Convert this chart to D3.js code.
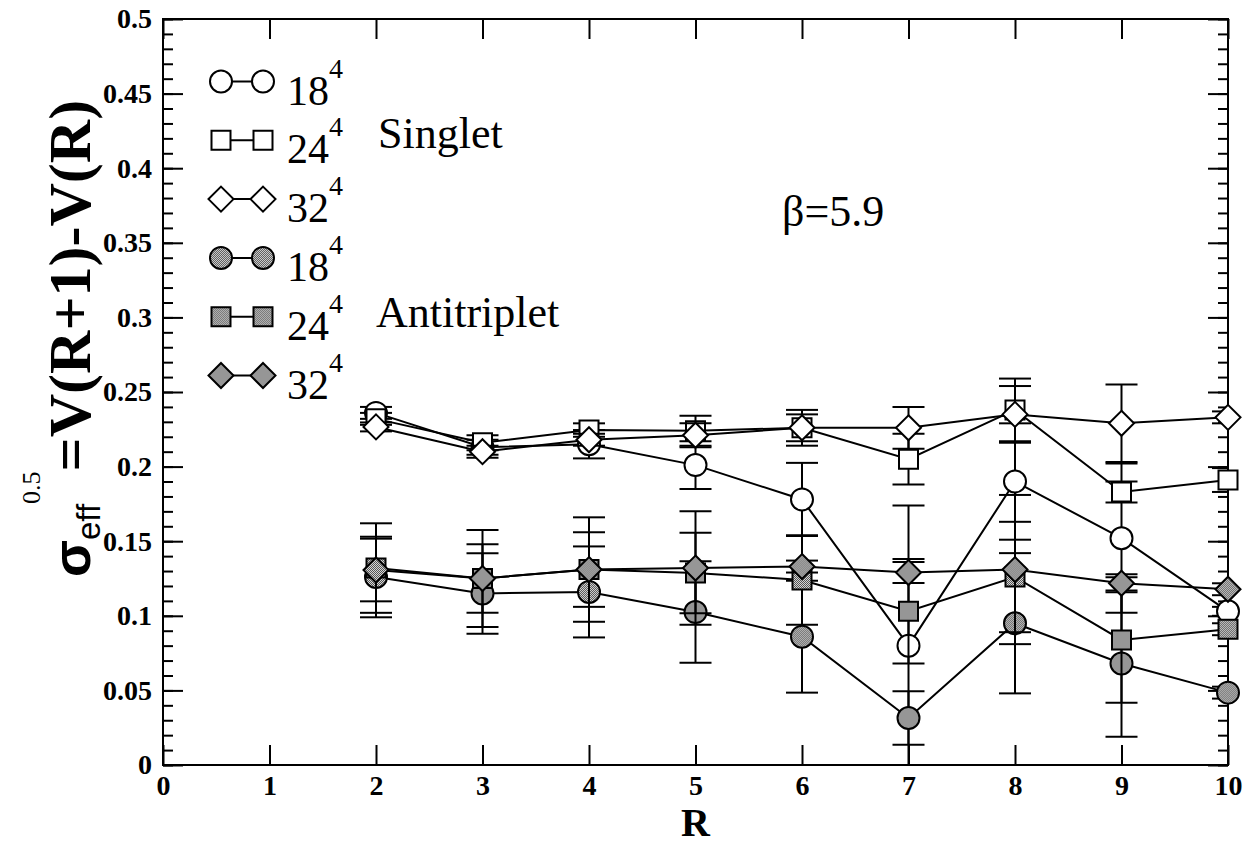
<!DOCTYPE html>
<html>
<head>
<meta charset="utf-8">
<script src="https://cdn.jsdelivr.net/npm/d3@7"></script>
<style>
  body { margin: 0; background: #fff; }
  svg { display: block; }
</style>
</head>
<body>
<svg id="chart" width="1246" height="842"></svg>
<script>
// separation R
const R = [2, 3, 4, 5, 6, 7, 8, 9, 10];

// singlet
const s18 = [0.236, 0.213, 0.215, 0.201, 0.178, 0.080, 0.190, 0.152, 0.103];
const s18err = [0.004, 0.005, 0.0095, 0.016, 0.0245, 0.094, 0.039, 0.050, 0.003];
const s24 = [0.232, 0.216, 0.2245, 0.224, 0.226, 0.205, 0.238, 0.183, 0.191];
const s24err = [0.004, 0.005, 0.0045, 0.010, 0.012, 0.017, 0.021, 0.007, 0.008];
const s32 = [0.2266, 0.210, 0.218, 0.221, 0.226, 0.226, 0.235, 0.229, 0.233];
const s32err = [0.003, 0.004, 0.004, 0.008, 0.009, 0.014, 0.019, 0.026, 0.004];

// antitriplet
const a18 = [0.126, 0.115, 0.116, 0.1025, 0.086, 0.0315, 0.095, 0.068, 0.0485];
const a18err = [0.027, 0.027, 0.0305, 0.034, 0.0375, 0.018, 0.047, 0.049, 0.004];
const a24 = [0.132, 0.125, 0.131, 0.1287, 0.124, 0.103, 0.126, 0.0838, 0.091];
const a24err = [0.030, 0.0325, 0.035, 0.027, 0.030, 0.035, 0.037, 0.042, 0.004];
const a32 = [0.1307, 0.125, 0.131, 0.132, 0.133, 0.129, 0.131, 0.1218, 0.1178];
const a32err = [0.021, 0.023, 0.025, 0.038, 0.004, 0.007, 0.050, 0.006, 0.004];

const sizes = ["18", "24", "32", "18", "24", "32"];
const yTicks = [0, 0.05, 0.1, 0.15, 0.2, 0.25, 0.3, 0.35, 0.4, 0.45, 0.5];
const xTicks = [0, 1, 2, 3, 4, 5, 6, 7, 8, 9, 10];

const series = [
  {v: s18, e: s18err, sym: "circle", filled: false},
  {v: s24, e: s24err, sym: "square", filled: false},
  {v: s32, e: s32err, sym: "diamond", filled: false},
  {v: a18, e: a18err, sym: "circle", filled: true},
  {v: a24, e: a24err, sym: "square", filled: true},
  {v: a32, e: a32err, sym: "diamond", filled: true}
];

const pL = 163, pR = 1228, pT = 19, pB = 765;
const SERIF = '"Liberation Serif"';
const SANS = '"Liberation Sans"';

const svg = d3.select("#chart");
const x = d3.scaleLinear().domain([0, 10]).range([pL, pR]);
const y = d3.scaleLinear().domain([0, 0.5]).range([pB, pT]);

const defs = svg.append("defs");
const pat = defs.append("pattern").attr("id", "dots")
  .attr("width", 2).attr("height", 2).attr("patternUnits", "userSpaceOnUse");
pat.append("rect").attr("width", 2).attr("height", 2).attr("fill", "#d6d6d6");
pat.append("rect").attr("width", 1).attr("height", 1).attr("fill", "#555");
pat.append("rect").attr("x", 1).attr("y", 1).attr("width", 1).attr("height", 1).attr("fill", "#555");

defs.append("clipPath").attr("id", "plot")
  .append("rect").attr("x", pL).attr("y", pT)
  .attr("width", pR - pL).attr("height", pB - pT);

function symbolPath(sym) {
  if (sym === "circle") return d3.symbol(d3.symbolCircle, Math.PI * 11 * 11)();
  if (sym === "square") return "M-9.5,-9.5H9.5V9.5H-9.5Z";
  return "M0,-12.5L12.5,0L0,12.5L-12.5,0Z";
}

// axes
const minor = d3.range(0, 0.501, 0.01).map(d => +d.toFixed(2));
function styleAxis(g) {
  g.attr("font-family", null).attr("font-size", null);
  g.select(".domain").remove();
  g.selectAll("line").attr("stroke", "#000").attr("stroke-width", 2);
  g.selectAll("text").style("font-family", SERIF).style("font-weight", "bold")
    .style("font-size", "28px").attr("fill", "#000");
}
svg.append("g").attr("transform", `translate(${pL},0)`)
  .call(d3.axisLeft(y).tickValues(minor).tickSize(-10).tickFormat("")).call(styleAxis);
svg.append("g").attr("transform", `translate(${pL},0)`)
  .call(d3.axisLeft(y).tickValues(yTicks).tickSize(-20).tickPadding(11)
    .tickFormat(d => String(+d.toFixed(2)))).call(styleAxis);
svg.append("g").attr("transform", `translate(${pR},0)`)
  .call(d3.axisRight(y).tickValues(minor).tickSize(-10).tickFormat("")).call(styleAxis);
svg.append("g").attr("transform", `translate(${pR},0)`)
  .call(d3.axisRight(y).tickValues(yTicks).tickSize(-20).tickFormat("")).call(styleAxis);
svg.append("g").attr("transform", `translate(0,${pB})`)
  .call(d3.axisBottom(x).tickValues(xTicks).tickSize(-20).tickPadding(10)
    .tickFormat(d3.format("d"))).call(styleAxis);
svg.append("g").attr("transform", `translate(0,${pT})`)
  .call(d3.axisTop(x).tickValues(xTicks).tickSize(-20).tickFormat("")).call(styleAxis);

svg.append("rect").attr("x", pL).attr("y", pT)
  .attr("width", pR - pL).attr("height", pB - pT)
  .attr("fill", "none").attr("stroke", "#000").attr("stroke-width", 2);

// data
const line = d3.line().x((d, i) => x(R[i])).y(d => y(d));
series.forEach(s => {
  const g = svg.append("g");
  g.append("path").attr("d", line(s.v)).attr("fill", "none")
    .attr("stroke", "#000").attr("stroke-width", 2);
  const eb = g.append("g").attr("clip-path", "url(#plot)")
    .attr("stroke", "#000").attr("stroke-width", 2);
  s.v.forEach((v, i) => {
    const cx = x(R[i]), y1 = y(v + s.e[i]), y0 = y(v - s.e[i]);
    eb.append("line").attr("x1", cx).attr("x2", cx).attr("y1", y1).attr("y2", y0);
    eb.append("line").attr("x1", cx - 16).attr("x2", cx + 16).attr("y1", y1).attr("y2", y1);
    eb.append("line").attr("x1", cx - 16).attr("x2", cx + 16).attr("y1", y0).attr("y2", y0);
  });
  g.selectAll(".m").data(s.v).join("path")
    .attr("transform", (d, i) => `translate(${x(R[i])},${y(d)})`)
    .attr("d", symbolPath(s.sym))
    .attr("fill", s.filled ? "url(#dots)" : "#fff")
    .attr("stroke", "#000").attr("stroke-width", 2);
});

// legend
const leg = svg.append("g");
series.forEach((s, i) => {
  const ly = 81.5 + i * 58.8;
  leg.append("line").attr("x1", 221).attr("x2", 263).attr("y1", ly).attr("y2", ly)
    .attr("stroke", "#000").attr("stroke-width", 2);
  [221, 263].forEach(lx => {
    leg.append("path").attr("transform", `translate(${lx},${ly})`)
      .attr("d", symbolPath(s.sym))
      .attr("fill", s.filled ? "url(#dots)" : "#fff")
      .attr("stroke", "#000").attr("stroke-width", 2);
  });
  const t = leg.append("text").attr("x", 287).attr("y", ly + 23)
    .style("font-family", SERIF).style("font-size", "42px");
  t.append("tspan").text(sizes[i]);
  t.append("tspan").style("font-size", "28px").attr("dy", -27).text("4");
});

svg.append("text").attr("x", 378).attr("y", 148)
  .style("font-family", SERIF).style("font-size", "44px").text("Singlet");
svg.append("text").attr("x", 376).attr("y", 327)
  .style("font-family", SERIF).style("font-size", "44px").text("Antitriplet");
svg.append("text").attr("x", 782).attr("y", 226)
  .style("font-family", SERIF).style("font-size", "44px").text("β=5.9");

// axis titles
svg.append("text").attr("x", (pL + pR) / 2).attr("y", 836)
  .attr("text-anchor", "middle").style("font-family", SERIF)
  .style("font-weight", "bold").style("font-size", "40px").text("R");

const yt = svg.append("text").attr("transform", "translate(90,577) rotate(-90)")
  .style("font-family", SERIF).style("font-weight", "bold").style("font-size", "60px");
yt.append("tspan").style("font-family", SANS)
  .style("font-weight", "bold").style("font-size", "54px").text("σ");
yt.append("tspan").style("font-family", SANS)
  .style("font-weight", "normal").style("font-size", "33px").attr("dy", 10).text("eff");
yt.append("tspan").style("font-size", "26px").style("font-weight", "normal").attr("dy", -60).text("0.5");
yt.append("tspan").attr("dy", 50).text("=V(R+1)-V(R)");
</script>
</body>
</html>
